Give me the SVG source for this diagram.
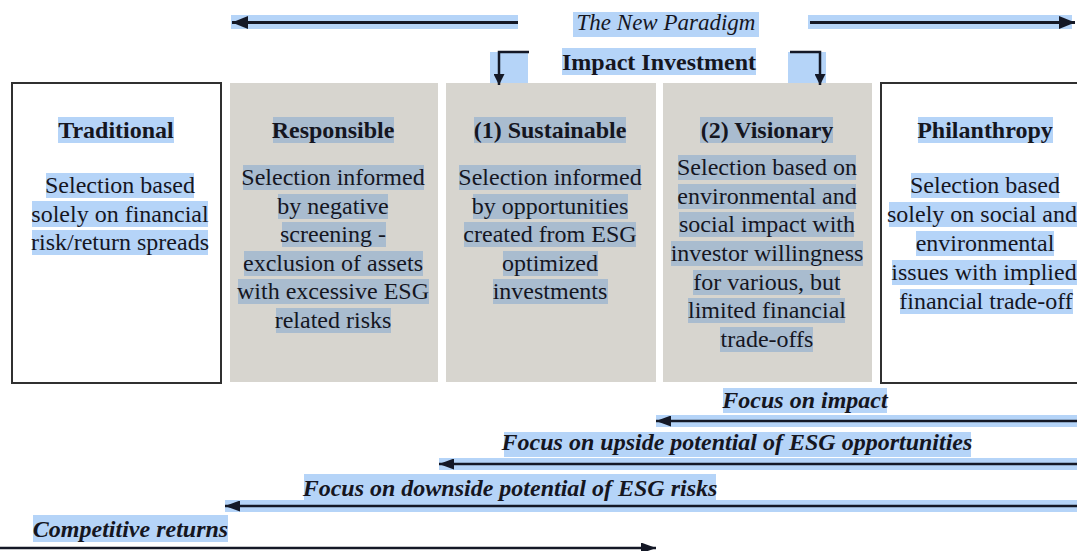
<svg xmlns="http://www.w3.org/2000/svg" width="1077" height="551" viewBox="0 0 1077 551">
<defs>
<marker id="big" markerUnits="userSpaceOnUse" markerWidth="16" markerHeight="13" refX="16" refY="6.5" orient="auto">
<path d="M0,0 L16,6.5 L0,13 z" fill="#141826"/>
</marker>
<marker id="mid" markerUnits="userSpaceOnUse" markerWidth="15" markerHeight="11" refX="15" refY="5.5" orient="auto">
<path d="M0,0 L15,5.5 L0,11 z" fill="#141826"/>
</marker>
<marker id="sm" markerUnits="userSpaceOnUse" markerWidth="11" markerHeight="11" refX="11" refY="5.5" orient="auto">
<path d="M0,0 L11,5.5 L0,11 z" fill="#141826"/>
</marker>
</defs>
<rect width="1077" height="551" fill="#ffffff"/>

<g id="header">
<g fill="#b5d4f8">
<rect x="231" y="15" width="287" height="14"/>
<rect x="808" y="15" width="264" height="14"/>
<rect x="573" y="12" width="186" height="25"/>
<rect x="562" y="48" width="194" height="27"/>
<rect x="490" y="52" width="38" height="32"/>
<rect x="788" y="52" width="38" height="32"/>
</g>
<text x="666" y="30" font-family="Liberation Serif" font-size="23" font-style="italic" fill="#15161f" text-anchor="middle">The New Paradigm</text>
<text x="659" y="70" font-family="Liberation Serif" font-size="24" font-weight="bold" fill="#15161f" text-anchor="middle">Impact Investment</text>
</g>

<g id="traditional">
<rect x="12" y="83" width="209" height="300" fill="#ffffff" stroke="#303030" stroke-width="2"/>
<g fill="#b5d4f8">
<rect x="58" y="117" width="116" height="26"/>
<rect x="46" y="173" width="148" height="25"/>
<rect x="32" y="201" width="176" height="26"/>
<rect x="32" y="230" width="176" height="25"/>
</g>
<g font-family="Liberation Serif" font-size="24" fill="#15161f" text-anchor="middle">
<text x="116" y="138" font-weight="bold">Traditional</text>
<text x="120" y="193">Selection based</text>
<text x="120" y="221.5">solely on financial</text>
<text x="120" y="250">risk/return spreads</text>
</g>
</g>

<g id="responsible">
<rect x="230" y="83" width="208" height="299" fill="#d7d5cf"/>
<g fill="#a9bccf">
<rect x="273" y="117" width="121" height="26"/>
<rect x="243" y="165" width="181" height="25"/>
<rect x="278" y="194" width="110" height="25"/>
<rect x="282" y="222" width="104" height="25"/>
<rect x="244" y="251" width="179" height="25"/>
<rect x="238" y="279" width="191" height="25"/>
<rect x="276" y="308" width="115" height="25"/>
</g>
<g font-family="Liberation Serif" font-size="24" fill="#15161f" text-anchor="middle">
<text x="333" y="138" font-weight="bold">Responsible</text>
<text x="333" y="185">Selection informed</text>
<text x="333" y="214">by negative</text>
<text x="333" y="242">screening -</text>
<text x="333" y="271">exclusion of assets</text>
<text x="333" y="299">with excessive ESG</text>
<text x="333" y="328">related risks</text>
</g>
</g>

<g id="sustainable">
<rect x="446" y="83" width="210" height="299" fill="#d7d5cf"/>
<g fill="#a9bccf">
<rect x="474" y="117" width="152" height="26"/>
<rect x="459" y="165" width="182" height="25"/>
<rect x="473" y="194" width="155" height="25"/>
<rect x="464" y="222" width="172" height="25"/>
<rect x="503" y="251" width="95" height="25"/>
<rect x="493" y="279" width="115" height="25"/>
</g>
<g font-family="Liberation Serif" font-size="24" fill="#15161f" text-anchor="middle">
<text x="550" y="138" font-weight="bold">(1) Sustainable</text>
<text x="550" y="185">Selection informed</text>
<text x="550" y="214">by opportunities</text>
<text x="550" y="242">created from ESG</text>
<text x="550" y="271">optimized</text>
<text x="550" y="299">investments</text>
</g>
</g>

<g id="visionary">
<rect x="663" y="83" width="209" height="299" fill="#d7d5cf"/>
<g fill="#a9bccf">
<rect x="700" y="117" width="133" height="26"/>
<rect x="678" y="155" width="178" height="25"/>
<rect x="678" y="184" width="178" height="25"/>
<rect x="679" y="212" width="175" height="25"/>
<rect x="671" y="241" width="192" height="25"/>
<rect x="693" y="270" width="147" height="25"/>
<rect x="688" y="298" width="157" height="25"/>
<rect x="720" y="327" width="93" height="25"/>
</g>
<g font-family="Liberation Serif" font-size="24" fill="#15161f" text-anchor="middle">
<text x="767" y="138" font-weight="bold">(2) Visionary</text>
<text x="767" y="175">Selection based on</text>
<text x="767" y="204">environmental and</text>
<text x="767" y="232">social impact with</text>
<text x="767" y="261">investor willingness</text>
<text x="767" y="290">for various, but</text>
<text x="767" y="318">limited financial</text>
<text x="767" y="347">trade-offs</text>
</g>
</g>

<g id="philanthropy">
<rect x="881" y="83" width="210" height="300" fill="#ffffff" stroke="#303030" stroke-width="2"/>
<g fill="#b5d4f8">
<rect x="918" y="117" width="135" height="26"/>
<rect x="911" y="173" width="148" height="25"/>
<rect x="889" y="202" width="188" height="25"/>
<rect x="916" y="231" width="138" height="25"/>
<rect x="892" y="260" width="185" height="25"/>
<rect x="900" y="289" width="173" height="25"/>
</g>
<g font-family="Liberation Serif" font-size="24" fill="#15161f" text-anchor="middle">
<text x="985" y="138" font-weight="bold">Philanthropy</text>
<text x="985" y="193">Selection based</text>
<text x="982" y="222">solely on social and</text>
<text x="985" y="251">environmental</text>
<text x="984" y="280">issues with implied</text>
<text x="986" y="309">financial trade-off</text>
</g>
</g>

<g id="focus-labels">
<g fill="#b5d4f8">
<rect x="656" y="415" width="421" height="12"/>
<rect x="439" y="458" width="638" height="12"/>
<rect x="225" y="500" width="852" height="12"/>
<rect x="723" y="388" width="164" height="25"/>
<rect x="504" y="432" width="467" height="25"/>
<rect x="304" y="474" width="412" height="26"/>
<rect x="33" y="515" width="195" height="27"/>
</g>
<g font-family="Liberation Serif" font-size="24" font-style="italic" font-weight="bold" fill="#15161f" text-anchor="middle">
<text x="805" y="408">Focus on impact</text>
<text x="737" y="450">Focus on upside potential of ESG opportunities</text>
<text x="510" y="496">Focus on downside potential of ESG risks</text>
<text x="130.5" y="537">Competitive returns</text>
</g>
</g>

<g id="connectors" stroke="#141826" fill="none">
<line x1="518" y1="22.5" x2="232" y2="22.5" stroke-width="3" marker-end="url(#big)"/>
<line x1="810" y1="22.5" x2="1075" y2="22.5" stroke-width="3" marker-end="url(#big)"/>
<path d="M529,52 H499 V85" stroke-width="2.5" marker-end="url(#sm)"/>
<path d="M790,52 H820 V85" stroke-width="2.5" marker-end="url(#sm)"/>
<line x1="1077" y1="421" x2="656" y2="421" stroke-width="2.5" marker-end="url(#mid)"/>
<line x1="1077" y1="464" x2="439" y2="464" stroke-width="2.5" marker-end="url(#mid)"/>
<line x1="1077" y1="506" x2="225" y2="506" stroke-width="2.5" marker-end="url(#mid)"/>
<line x1="0" y1="548" x2="656" y2="548" stroke-width="2.5" marker-end="url(#mid)"/>
</g>
</svg>
